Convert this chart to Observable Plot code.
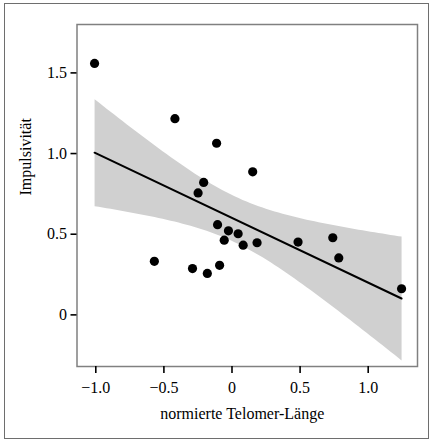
<!DOCTYPE html>
<html>
<head>
<meta charset="utf-8">
<script src="https://cdn.jsdelivr.net/npm/d3@7"></script>
<script src="https://cdn.jsdelivr.net/npm/@observablehq/plot@0.6"></script>
<style>
  html, body { margin: 0; padding: 0; background: #fff; }
  #wrap { position: relative; width: 430px; height: 441px; }
  #border { position: absolute; left: 4px; top: 3px; width: 423px; height: 434px; border: 1.5px solid #6e6e6e; pointer-events: none; }
  svg, svg text { font-family: "Liberation Serif", "DejaVu Serif", serif !important; }
</style>
</head>
<body>
<div id="wrap"><div id="border"></div></div>
<script>
const telomerLength = [-1.009, -0.419, -0.113, 0.152, -0.208, -0.249, -0.106, -0.026, 0.045, -0.057,
                       0.082, 0.184, 0.485, 0.740, 0.784, 1.245, -0.570, -0.290, -0.181, -0.091];
const impulsivity   = [1.559, 1.216, 1.064, 0.887, 0.821, 0.756, 0.559, 0.521, 0.503, 0.463,
                       0.432, 0.447, 0.451, 0.478, 0.353, 0.162, 0.332, 0.287, 0.257, 0.307];
const xTicks = [-1.0, -0.5, 0, 0.5, 1.0];
const yTicks = [0, 0.5, 1.0, 1.5];
const xLabel = "normierte Telomer-Länge";
const yLabel = "Impulsivität";

const data = telomerLength.map((x, i) => ({x, y: impulsivity[i]}));
const fmt = d => d === 0 ? "0" : d.toFixed(1).replace("-", "\u2212");
const serif = "Liberation Serif";

const chart = Plot.plot({
  width: 430,
  height: 441,
  marginLeft: 76.5,
  marginRight: 13,
  marginTop: 24,
  marginBottom: 75,
  style: {fontFamily: serif, fontSize: "16px", background: "transparent", color: "black"},
  x: {domain: [-1.138, 1.362]},
  y: {domain: [-0.32, 1.80]},
  marks: [
    Plot.linearRegressionY(data, {x: "x", y: "y", ci: 0.95, stroke: "black", strokeWidth: 2, fill: "#d0d0d0", fillOpacity: 1}),
    Plot.dot(data, {x: "x", y: "y", r: 4.6, fill: "black", stroke: "none"}),
    Plot.frame({stroke: "#808080", strokeWidth: 1.5}),
    Plot.axisX({ticks: xTicks, tickFormat: fmt, tickSize: 7, tickPadding: 8, strokeWidth: 1.6, fontSize: 16, fontFamily: serif, label: null}),
    Plot.axisY({ticks: yTicks, tickFormat: fmt, tickSize: 6, tickPadding: 4, strokeWidth: 1.6, fontSize: 16, fontFamily: serif, label: null}),
    Plot.text([xLabel], {text: d => d, frameAnchor: "bottom", lineAnchor: "bottom", dx: -5, dy: 52.5, fontSize: 16, fontFamily: serif}),
    Plot.text([yLabel], {text: d => d, frameAnchor: "left", lineAnchor: "top", rotate: -90, dx: -57, fontSize: 16, fontFamily: serif})
  ]
});
document.getElementById("wrap").prepend(chart);
chart.style.position = "absolute";
chart.style.left = "0px";
chart.style.top = "0px";
</script>
</body>
</html>
